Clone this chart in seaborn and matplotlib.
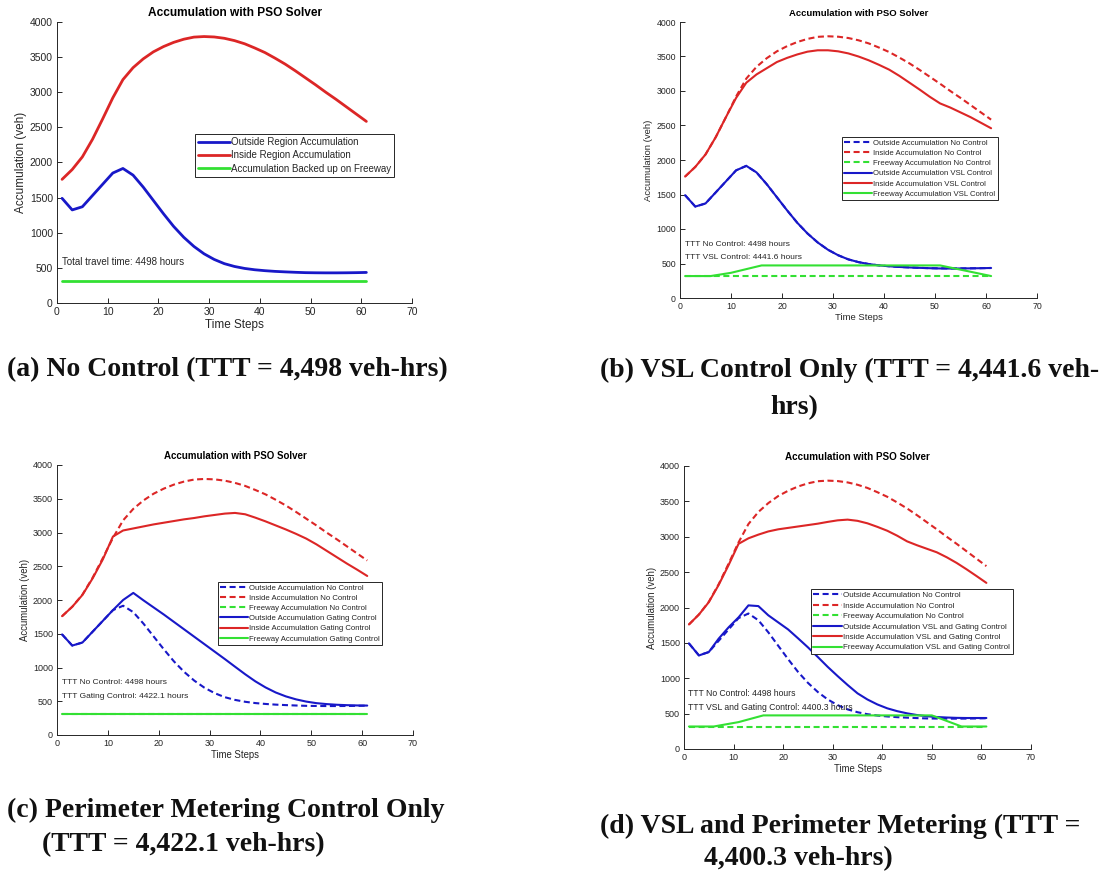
import matplotlib
matplotlib.use("Agg")
import matplotlib.pyplot as plt
import seaborn as sns

sns.set_theme(style="white")
plt.rcParams['font.family'] = ['Liberation Sans', 'DejaVu Sans']

# ---------------- data ----------------
t_steps = list(range(1, 62, 2))

outside_nc = [1490, 1325, 1370, 1530, 1690, 1850, 1915, 1820, 1650, 1460, 1270,
              1090, 935, 805, 700, 620, 560, 520, 492, 473, 460, 450, 443, 437,
              432, 430, 429, 429, 430, 432, 435]
inside_nc = [1760, 1900, 2080, 2330, 2620, 2920, 3180, 3350, 3475, 3575, 3650,
             3710, 3755, 3785, 3793, 3787, 3768, 3735, 3690, 3630, 3565, 3485,
             3400, 3305, 3205, 3105, 3000, 2900, 2795, 2690, 2585]
fwy_nc_t = [1, 61]
fwy_nc = [318, 318]

outside_vsl = [1490, 1325, 1370, 1530, 1690, 1850, 1915, 1820, 1650, 1460, 1270,
               1090, 935, 805, 700, 620, 560, 520, 492, 473, 460, 450, 443, 437,
               432, 428, 427, 428, 430, 432, 435]
inside_vsl = [1760, 1900, 2080, 2330, 2620, 2900, 3120, 3240, 3330, 3420, 3480,
              3530, 3570, 3590, 3590, 3575, 3545, 3500, 3445, 3380, 3310, 3220,
              3120, 3020, 2915, 2820, 2760, 2690, 2620, 2540, 2460]
fwy_vsl_t = [1, 6, 10, 16, 51, 57, 61]
fwy_vsl = [318, 318, 365, 472, 472, 380, 318]

outside_gate = [1490, 1325, 1370, 1530, 1690, 1850, 2000, 2105, 1995, 1890, 1785,
                1675, 1565, 1455, 1345, 1235, 1125, 1012, 900, 795, 705, 630,
                572, 528, 495, 472, 458, 448, 442, 438, 436]
inside_gate = [1760, 1900, 2075, 2320, 2600, 2940, 3030, 3060, 3090, 3120, 3145,
               3170, 3195, 3215, 3240, 3260, 3280, 3290, 3270, 3220, 3165, 3105,
               3045, 2980, 2910, 2825, 2730, 2635, 2540, 2450, 2356]
fwy_gate_t = [1, 61]
fwy_gate = [318, 318]

outside_both = [1494, 1322, 1370, 1560, 1720, 1860, 2030, 2020, 1890, 1790, 1690,
                1565, 1437, 1300, 1160, 1030, 905, 787, 700, 630, 575, 535, 504,
                480, 463, 452, 445, 440, 438, 438, 438]
inside_both = [1760, 1900, 2075, 2320, 2600, 2900, 2978, 3030, 3075, 3105, 3125,
               3145, 3165, 3185, 3210, 3232, 3242, 3225, 3190, 3140, 3085, 3015,
               2935, 2880, 2830, 2780, 2710, 2630, 2540, 2445, 2348]
fwy_both_t = [1, 6, 11, 16, 50, 56, 61]
fwy_both = [318, 318, 380, 475, 475, 318, 318]

x_ticks = [0, 10, 20, 30, 40, 50, 60, 70]
y_ticks = [0, 500, 1000, 1500, 2000, 2500, 3000, 3500, 4000]

# ---------------- styling ----------------
BLUE = '#1818c8'
RED = '#dc2626'
GREEN = '#33e033'
AX_COL = '#262626'
DASH = (0, (2.9, 1.7))

W, H = 1104, 873
fig = plt.figure(figsize=(W / 100, H / 100), dpi=100)


def px_rect(l, r, t, b):
    return [l / W, 1 - b / H, (r - l) / W, (b - t) / H]


def style_axes(ax, fs_tick, fs_lab, fs_title):
    ax.set_xlim(0, 70)
    ax.set_ylim(0, 4000)
    ax.set_xticks(x_ticks)
    ax.set_yticks(y_ticks)
    for s in ['top', 'right']:
        ax.spines[s].set_visible(False)
    for s in ['left', 'bottom']:
        ax.spines[s].set_color(AX_COL)
        ax.spines[s].set_linewidth(0.7)
    ax.tick_params(direction='in', length=3.5, width=0.7, colors=AX_COL,
                   labelsize=fs_tick, pad=3, left=True, bottom=True)
    ax.set_xlabel('Time Steps', fontsize=fs_lab, color=AX_COL, labelpad=1)
    ax.set_ylabel('Accumulation (veh)', fontsize=fs_lab, color=AX_COL, labelpad=2)
    ax.set_title('Accumulation with PSO Solver', fontsize=fs_title,
                 fontweight='bold', color='black', pad=4)
    ax.grid(False)


def line(ax, x, y, color, ls='-', lw=1.5, label=None):
    sns.lineplot(x=x, y=y, ax=ax, color=color, linestyle=ls, linewidth=lw,
                 label=label, legend=False, sort=False)


def legend(ax, anchor, fs, hl):
    h, l = ax.get_legend_handles_labels()
    leg = ax.legend(h, l, loc='upper left', bbox_to_anchor=anchor,
                    fontsize=fs, frameon=True, fancybox=False, framealpha=1,
                    borderaxespad=0, borderpad=0.3, labelspacing=0.35,
                    handlelength=hl, handletextpad=0.1)
    leg.get_frame().set_edgecolor(AX_COL)
    leg.get_frame().set_linewidth(0.7)
    for txt in leg.get_texts():
        txt.set_color(AX_COL)


# ---- (a) ----
ax_a = fig.add_axes(px_rect(57, 412, 22, 303))
line(ax_a, t_steps, outside_nc, BLUE, lw=2.0, label='Outside Region Accumulation')
line(ax_a, t_steps, inside_nc, RED, lw=2.0, label='Inside Region Accumulation')
line(ax_a, fwy_nc_t, fwy_nc, GREEN, lw=2.0, label='Accumulation Backed up on Freeway')
style_axes(ax_a, 7.5, 8.5, 8.6)
legend(ax_a, (0.389, 0.601), 7.0, 3.3)
ax_a.text(1, 582, 'Total travel time: 4498 hours', fontsize=7, color=AX_COL, va='center')

# ---- (b) ----
ax_b = fig.add_axes(px_rect(680, 1037, 22, 298))
line(ax_b, t_steps, outside_nc, BLUE, DASH, label='Outside Accumulation No Control')
line(ax_b, t_steps, inside_nc, RED, DASH, label='Inside Accumulation No Control')
line(ax_b, fwy_nc_t, fwy_nc, GREEN, DASH, label='Freeway Accumulation No Control')
line(ax_b, t_steps, outside_vsl, BLUE, label='Outside Accumulation VSL Control')
line(ax_b, t_steps, inside_vsl, RED, label='Inside Accumulation VSL Control')
line(ax_b, fwy_vsl_t, fwy_vsl, GREEN, label='Freeway Accumulation VSL Control')
style_axes(ax_b, 6.3, 6.8, 6.8)
legend(ax_b, (0.454, 0.583), 5.6, 3.6)
ax_b.text(0.9, 782, 'TTT No Control: 4498 hours', fontsize=6, color=AX_COL, va='center')
ax_b.text(0.9, 589, 'TTT VSL Control: 4441.6 hours', fontsize=6, color=AX_COL, va='center')

# ---- (c) ----
ax_c = fig.add_axes(px_rect(57, 413, 465, 735))
line(ax_c, t_steps, outside_nc, BLUE, DASH, label='Outside Accumulation No Control')
line(ax_c, t_steps, inside_nc, RED, DASH, label='Inside Accumulation No Control')
line(ax_c, fwy_nc_t, fwy_nc, GREEN, DASH, label='Freeway Accumulation No Control')
line(ax_c, t_steps, outside_gate, BLUE, label='Outside Accumulation Gating Control')
line(ax_c, t_steps, inside_gate, RED, label='Inside Accumulation Gating Control')
line(ax_c, fwy_gate_t, fwy_gate, GREEN, label='Freeway Accumulation Gating Control')
style_axes(ax_c, 6.5, 6.9, 7.0)
legend(ax_c, (0.452, 0.567), 5.6, 3.6)
ax_c.text(0.9, 785, 'TTT No Control: 4498 hours', fontsize=6, color=AX_COL, va='center')
ax_c.text(0.9, 573, 'TTT Gating Control: 4422.1 hours', fontsize=6, color=AX_COL, va='center')

# ---- (d) ----
ax_d = fig.add_axes(px_rect(684, 1031, 466, 749))
line(ax_d, t_steps, outside_nc, BLUE, DASH, label='Outside Accumulation No Control')
line(ax_d, t_steps, inside_nc, RED, DASH, label='Inside Accumulation No Control')
line(ax_d, fwy_nc_t, fwy_nc, GREEN, DASH, label='Freeway Accumulation No Control')
line(ax_d, t_steps, outside_both, BLUE, label='Outside Accumulation VSL and Gating Control')
line(ax_d, t_steps, inside_both, RED, label='Inside Accumulation VSL and Gating Control')
line(ax_d, fwy_both_t, fwy_both, GREEN, label='Freeway Accumulation VSL and Gating Control')
style_axes(ax_d, 6.5, 6.9, 7.1)
legend(ax_d, (0.366, 0.565), 5.8, 3.6)
ax_d.text(0.8, 781, 'TTT No Control: 4498 hours', fontsize=6.2, color=AX_COL, va='center')
ax_d.text(0.8, 588, 'TTT VSL and Gating Control: 4400.3 hours', fontsize=6.2, color=AX_COL, va='center')

# ---- captions ----
CAP = dict(fontsize=20, fontweight='bold', family=['Liberation Serif', 'DejaVu Serif'],
           color='#111111', va='center', ha='left')


def cap(xpx, ypx, s):
    fig.text(xpx / W, 1 - ypx / H, s, **CAP)


cap(7, 370, '(a) No Control (TTT = 4,498 veh-hrs)')
cap(600, 370, '(b) VSL Control Only (TTT = 4,441.6 veh-')
cap(770, 408, 'hrs)')
cap(7, 810, '(c) Perimeter Metering Control Only')
cap(42, 845, '(TTT = 4,422.1 veh-hrs)')
cap(600, 826, '(d) VSL and Perimeter Metering (TTT =')
cap(704, 859, '4,400.3 veh-hrs)')

fig.savefig('out.png', dpi=100, facecolor='white')
